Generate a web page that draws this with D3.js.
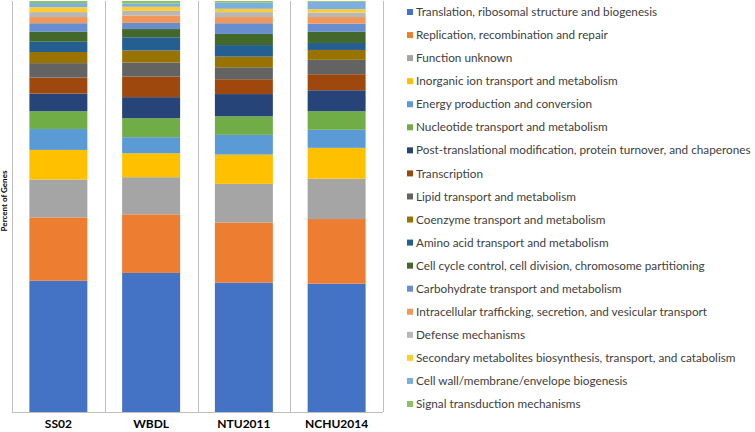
<!DOCTYPE html>
<html>
<head>
<meta charset="utf-8">
<script src="https://cdn.jsdelivr.net/npm/d3@7"></script>
<style>
  html, body { margin: 0; padding: 0; background: #fff; }
  svg { display: block; }
</style>
</head>
<body>
<svg id="chart" width="755" height="432"></svg>
<script>
// ---- Data ----
const strains = ["SS02", "WBDL", "NTU2011", "NCHU2014"];

const categories = [
  "Translation, ribosomal structure and biogenesis",
  "Replication, recombination and repair",
  "Function unknown",
  "Inorganic ion transport and metabolism",
  "Energy production and conversion",
  "Nucleotide transport and metabolism",
  "Post-translational modification, protein turnover, and chaperones",
  "Transcription",
  "Lipid transport and metabolism",
  "Coenzyme transport and metabolism",
  "Amino acid transport and metabolism",
  "Cell cycle control, cell division, chromosome partitioning",
  "Carbohydrate transport and metabolism",
  "Intracellular trafficking, secretion, and vesicular transport",
  "Defense mechanisms",
  "Secondary metabolites biosynthesis, transport, and catabolism",
  "Cell wall/membrane/envelope biogenesis",
  "Signal transduction mechanisms"
];

const colors = [
  "#4472C4", "#ED7D31", "#A5A5A5", "#FFC000", "#5B9BD5", "#70AD47",
  "#264478", "#9E480E", "#636363", "#997300", "#255E91", "#43682B",
  "#698ED0", "#F1975A", "#B7B7B7", "#FFCD33", "#7CAFDD", "#8CC168"
];

// percent of genes per category (same order as categories)
const valuesSS02     = [31.9, 15.4, 9.2, 7.2, 5.1, 4.3, 4.3, 3.9, 3.5, 2.7, 2.5, 2.4, 2.1, 1.5, 1.2, 1.2, 1.0, 0.5];
const valuesWBDL     = [33.7, 14.2, 9.0, 5.8, 3.9, 4.6, 5.1, 5.0, 3.4, 2.9, 3.2, 2.0, 1.5, 1.8, 1.1, 1.0, 0.8, 0.6];
const valuesNTU2011  = [31.4, 14.6, 9.4, 7.1, 4.8, 4.5, 5.4, 3.6, 2.9, 2.6, 2.8, 2.7, 2.6, 1.5, 1.2, 0.8, 1.5, 0.4];
const valuesNCHU2014 = [31.2, 15.7, 9.8, 7.5, 4.4, 4.5, 5.1, 3.9, 3.5, 2.4, 1.7, 2.7, 2.0, 1.6, 1.1, 0.8, 1.8, 0.2];

const seriesValues = [valuesSS02, valuesWBDL, valuesNTU2011, valuesNCHU2014];

// ---- Build table ----
const table = strains.map((s, i) => {
  const row = { strain: s };
  categories.forEach((c, j) => { row[c] = seriesValues[i][j]; });
  return row;
});

const svg = d3.select("#chart");
const plot = { left: 12, right: 383, top: 1, bottom: 412 };

const x = d3.scaleBand()
  .domain(strains)
  .range([plot.left, plot.right])
  .paddingInner(0.375)
  .paddingOuter(0.1875);

const y = d3.scaleLinear().domain([0, 1]).range([plot.bottom, plot.top]);

const color = d3.scaleOrdinal().domain(categories).range(colors);

const stacked = d3.stack()
  .keys(categories)
  .offset(d3.stackOffsetExpand)(table);

// separators between categories
const seps = strains.map(s => x(s) - (x.step() - x.bandwidth()) / 2);
seps.push(plot.right);
svg.append("g").selectAll("line").data(seps).join("line")
  .attr("x1", d => Math.round(d) + 0.5).attr("x2", d => Math.round(d) + 0.5)
  .attr("y1", plot.top).attr("y2", plot.bottom)
  .attr("stroke", "#bfbfbf").attr("stroke-width", 1);

// bars
svg.append("g").selectAll("g").data(stacked).join("g")
  .attr("fill", d => color(d.key))
  .selectAll("rect").data(d => d).join("rect")
  .attr("x", d => x(d.data.strain))
  .attr("width", x.bandwidth())
  .attr("y", d => y(d[1]))
  .attr("height", d => y(d[0]) - y(d[1]));

// x axis
const xAxis = svg.append("g")
  .attr("transform", `translate(0,${plot.bottom})`)
  .call(d3.axisBottom(x).tickSize(0).tickPadding(7));
xAxis.select(".domain").attr("stroke", "#bfbfbf").attr("d", `M${plot.left},0.5H${plot.right}`);
xAxis.selectAll("text")
  .attr("font-family", "Lato, 'Open Sans', sans-serif")
  .attr("font-weight", "bold")
  .attr("font-size", 12)
  .attr("fill", "#000");

// y label
svg.append("text")
  .attr("transform", `translate(7,201) rotate(-90)`)
  .attr("text-anchor", "middle")
  .attr("font-family", "Lato, 'Open Sans', sans-serif")
  .attr("font-weight", "bold")
  .attr("font-size", 8)
  .attr("fill", "#000")
  .text("Percent of Genes");

// legend
const legendY = d3.scalePoint().domain(categories).range([12, 404]);
const legend = svg.append("g").selectAll("g").data(categories).join("g")
  .attr("transform", d => `translate(407,${legendY(d)})`);
legend.append("rect")
  .attr("x", 0).attr("y", -3).attr("width", 6).attr("height", 6)
  .attr("fill", d => color(d));
legend.append("text")
  .attr("x", 9).attr("y", 0).attr("dy", "0.35em")
  .attr("font-family", "Lato, 'Open Sans', sans-serif")
  .attr("font-size", 11.75)
  .attr("fill", "#404040")
  .text(d => d);
</script>
</body>
</html>
